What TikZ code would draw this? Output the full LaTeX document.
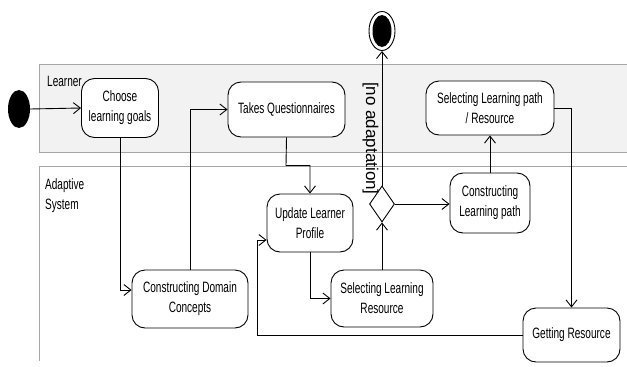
\documentclass[tikz,border=0pt]{standalone}
\usepackage{fontspec}
\setmainfont{Liberation Sans}[FakeStretch=0.67]
\newfontfamily\guardfont{Liberation Sans}
\usetikzlibrary{arrows.meta,shapes.geometric}
\begin{document}
\begin{tikzpicture}[x=1pt,y=-1pt,
  every node/.style={font=\fontsize{15}{20}\selectfont},
  act/.style={draw=black, line width=0.9pt, fill=white, rounded corners=13pt, align=center, inner sep=2pt},
  arr/.style={draw=black, line width=0.9pt, -{Straight Barb[length=7pt,width=11pt,line width=0.9pt]}},
  lane/.style={draw=gray!70, line width=0.8pt},
  lanelabel/.style={align=left, anchor=north west, inner sep=0pt}]
\useasboundingbox (0,0) rectangle (627,367);
\fill[white] (0,0) rectangle (627,367);
% swimlanes
\draw[lane, fill=gray!10] (640,64) -- (39.5,64) -- (39.5,152) -- (640,152);
\draw[lane] (640,166.5) -- (39.5,166.5) -- (39.5,361);
\node[lanelabel] (learner) at (47,76) {Learner};
\node[lanelabel] (adaptive) at (45,178) {Adaptive\\System};
% initial and final nodes
\node[ellipse, fill=black, minimum width=22pt, minimum height=38pt, inner sep=0pt] (start) at (19,109) {};
\node[ellipse, draw=black, line width=0.9pt, minimum width=26pt, minimum height=39pt, inner sep=0pt] (final) at (382,31) {};
\node[ellipse, fill=black, minimum width=19pt, minimum height=32pt, inner sep=0pt] (finalin) at (382,31) {};
% activities
\node[act, minimum width=77pt, minimum height=59pt] (choose) at (120,108) {Choose\\learning goals};
\node[act, minimum width=117pt, minimum height=55pt] (takes) at (286.5,109.5) {Takes Questionnaires};
\node[act, minimum width=116pt, minimum height=58pt] (cdc) at (190,299) {Constructing Domain\\Concepts};
\node[act, minimum width=86pt, minimum height=58pt] (ulp) at (310,223) {Update Learner\\Profile};
\node[act, minimum width=102pt, minimum height=57pt] (slr) at (382,298.5) {Selecting Learning\\Resource};
\node[diamond, draw=black, line width=0.9pt, fill=white, minimum width=25pt, minimum height=36pt, inner sep=0pt] (dec) at (382,204) {};
\node[act, minimum width=80pt, minimum height=60pt] (clp) at (490,203) {Constructing\\Learning path};
\node[act, minimum width=128pt, minimum height=54pt] (slpr) at (490,108) {Selecting Learning path\\/ Resource};
\node[act, minimum width=97pt, minimum height=54pt] (gr) at (571.5,335) {Getting Resource};
% bend points
\coordinate (b1) at (286,165.5);
\coordinate (b2) at (257,335);
% connectors
\draw[arr] (start.east) -- (choose.west);
\draw[arr] (choose.south) |- (cdc.west |- 0,290);
\draw[arr] (cdc.north) |- (takes.west);
\draw[arr] (takes.south) -- (b1) -| (ulp.north);
\draw[arr] (ulp.south) |- (slr.west);
\draw[arr] (slr.north) -- (dec.south);
\draw[arr] (dec.north) -- node[rotate=-90, font=\guardfont\fontsize{17}{20}\selectfont, pos=0.35, anchor=north, inner sep=2pt, yshift=-1pt] (guard) {[no adaptation]} (final.south);
\draw[arr] (dec.east) -- (clp.west |- dec.east);
\draw[arr] (clp.north) -- (slpr.south);
\draw[arr] (slpr.east) -| (gr.north);
\draw[arr] (gr.west) -- (b2) |- (ulp.west |- 0,240);
\end{tikzpicture}
\end{document}
